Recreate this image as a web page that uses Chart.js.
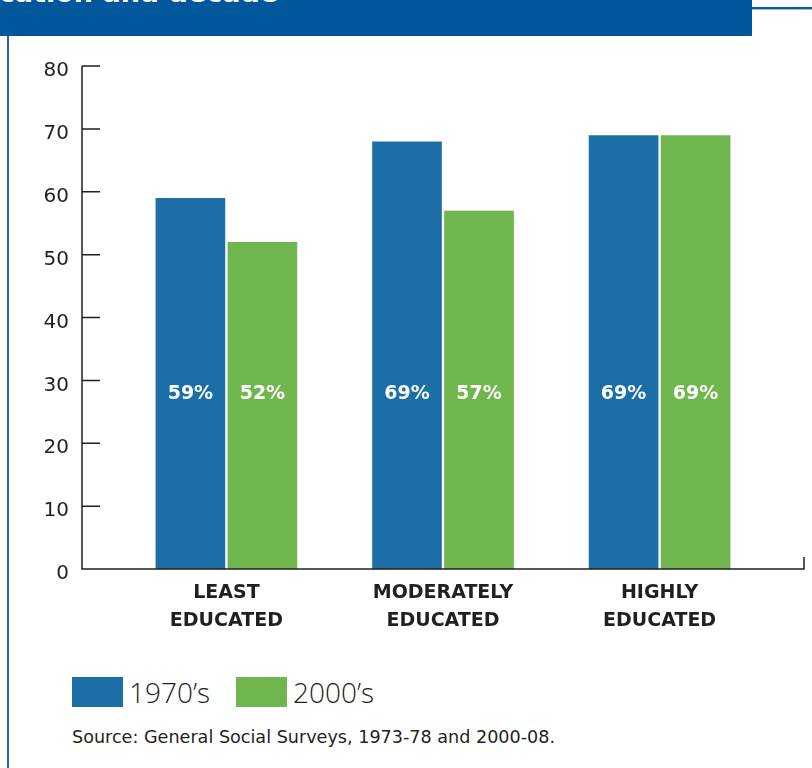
<!DOCTYPE html>
<html>
<head>
<meta charset="utf-8">
<script src="https://cdn.jsdelivr.net/npm/chart.js@4.4.1/dist/chart.umd.min.js"></script>
<style>
  body { margin: 0; background: #fff; font-family: "Open Sans", sans-serif; color: #231f20; }
  #page { position: relative; width: 812px; height: 768px; overflow: hidden; }
  #header { position: absolute; left: 0; top: 0; width: 752px; height: 36px; background: #01579b; overflow: hidden; }
  #header span { position: absolute; left: -58px; top: -22px; color: #fff; font-weight: 700; font-size: 27px; line-height: 30px; white-space: nowrap; font-family: "DejaVu Sans", sans-serif; }
  #rightLine { position: absolute; left: 752px; top: 7px; width: 60px; height: 2px; background: #0b5a9c; border-bottom: 1px solid #8fb8da; }
  #leftLine { position: absolute; left: 7px; top: 36px; width: 2px; height: 732px; background: #1b6ea8; }
  #chart { position: absolute; left: 0; top: 0; }
  #legend { position: absolute; left: 72px; top: 677px; display: flex; align-items: center; }
  .item { display: flex; align-items: center; margin-right: 26px; }
  .box { width: 51px; height: 30px; margin-right: 6px; }
  .item span { font-size: 28px; font-weight: 300; line-height: 30px; }
  #source { position: absolute; left: 72px; top: 727px; font-size: 17.6px; font-family: "DejaVu Sans", sans-serif; }
</style>
</head>
<body>
<div id="page">
  <div id="header"><span>education and decade</span></div>
  <div id="rightLine"></div>
  <div id="leftLine"></div>
  <canvas id="chart" width="812" height="660"></canvas>
  <div id="legend"></div>
  <div id="source">Source: General Social Surveys, 1973-78 and 2000-08.</div>
</div>
<script>
const categories = [["LEAST", "EDUCATED"], ["MODERATELY", "EDUCATED"], ["HIGHLY", "EDUCATED"]];
const seriesNames = ["1970’s", "2000’s"];
const values1970 = [59, 68, 69];
const values2000 = [52, 57, 69];
const labels1970 = ["59%", "69%", "69%"];
const labels2000 = ["52%", "57%", "69%"];
const yMin = 0, yMax = 80, yStep = 10;
const labelLevel = 28;   // height (in axis units) where the % labels sit

const blue = "#1b6ea6";
const green = "#6fb64e";
const ink = "#231f20";
const font = "DejaVu Sans";

// axis lines and inward ticks, drawn from the scales
const axisMarks = {
    id: "axisMarks",
    afterDatasetsDraw(chart) {
        const ctx = chart.ctx;
        const y = chart.scales.y;
        const left = chart.chartArea.left, right = chart.chartArea.right;
        const bottom = y.getPixelForValue(yMin), top = y.getPixelForValue(yMax);
        ctx.save();
        ctx.strokeStyle = ink;
        ctx.lineWidth = 1.5;
        ctx.beginPath();
        ctx.moveTo(left, top);
        ctx.lineTo(left, bottom);
        ctx.lineTo(right, bottom);
        ctx.lineTo(right, bottom - 12);
        y.ticks.forEach(t => {
            const py = y.getPixelForValue(t.value);
            ctx.moveTo(left, py);
            ctx.lineTo(left + 18, py);
        });
        ctx.stroke();

        // value labels inside the bars
        ctx.fillStyle = "#fff";
        ctx.font = "700 19px '" + font + "'";
        ctx.textAlign = "center";
        ctx.textBaseline = "middle";
        const texts = [labels1970, labels2000];
        chart.data.datasets.forEach((ds, di) => {
            chart.getDatasetMeta(di).data.forEach((bar, i) => {
                ctx.fillText(texts[di][i], bar.x, y.getPixelForValue(labelLevel) + 1);
            });
        });
        ctx.restore();
    }
};

const chart = new Chart(document.getElementById("chart").getContext("2d"), {
    type: "bar",
    data: {
        datasets: [{
            label: seriesNames[0],
            data: values1970.map((v, i) => ({ x: i, y: v })),
            backgroundColor: blue
        }, {
            label: seriesNames[1],
            data: values2000.map((v, i) => ({ x: i, y: v })),
            backgroundColor: green
        }]
    },
    options: {
        responsive: false,
        animation: false,
        barThickness: 72,
        borderColor: "#fff",
        borderWidth: { left: 1.5, right: 1.5, top: 0, bottom: 0 },
        borderSkipped: false,
        layout: { padding: { top: 66, right: 8, left: 0, bottom: 0 } },
        plugins: { legend: { display: false }, tooltip: { enabled: false } },
        scales: {
            x: {
                type: "linear",
                offset: false,
                min: -2 / 3,
                max: categories.length - 1 + 2 / 3,
                grid: { display: false, drawTicks: false },
                border: { display: false },
                afterBuildTicks: s => {
                    s.ticks = categories.map((c, i) => ({ value: i }));
                    s.min = -2 / 3;
                    s.max = categories.length - 1 + 2 / 3;
                },
                afterFit: s => { s.height = 91; },
                ticks: {
                    padding: 10,
                    color: ink,
                    font: { family: font, size: 19, weight: "700", lineHeight: 1.47 },
                    callback: v => categories[v]
                }
            },
            y: {
                min: yMin,
                max: yMax,
                grid: { display: false, drawTicks: false },
                border: { display: false },
                afterFit: s => { s.width = 82; },
                ticks: {
                    stepSize: yStep,
                    padding: 13,
                    labelOffset: 5,
                    color: ink,
                    font: { family: font, size: 20, weight: "400" }
                }
            }
        }
    },
    plugins: [axisMarks]
});

// html legend from the datasets
const legend = document.getElementById("legend");
chart.data.datasets.forEach(ds => {
    const item = document.createElement("div");
    item.className = "item";
    item.innerHTML = `<div class="box" style="background:${ds.backgroundColor}"></div><span>${ds.label}</span>`;
    legend.appendChild(item);
});
</script>
</body>
</html>
